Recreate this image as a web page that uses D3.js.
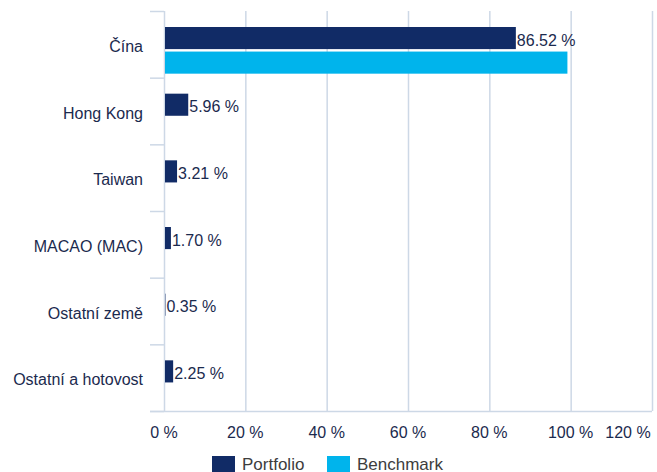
<!DOCTYPE html>
<html>
<head>
<meta charset="utf-8">
<script src="https://cdn.jsdelivr.net/npm/d3@7"></script>
<style>
  body { margin: 0; background: #fff; }
  svg text { font-family: "Liberation Sans", Arial, Helvetica, sans-serif; }
</style>
</head>
<body>
<div id="chart"></div>
<script>
// data
const categories = ["Čína", "Hong Kong", "Taiwan", "MACAO (MAC)", "Ostatní země", "Ostatní a hotovost"];
const portfolio = [86.52, 5.96, 3.21, 1.70, 0.35, 2.25];
const benchmark = [99.2, null, null, null, null, null];
const seriesNames = ["Portfolio", "Benchmark"];
const xTicks = [0, 20, 40, 60, 80, 100, 120];

const width = 657, height = 472;
const margin = {top: 11, right: 5, bottom: 61, left: 164};
const colors = ["#112b66", "#00b4ec"];
const textColor = "#1b2a4e";
const gridColor = "#cdd8e6";

const svg = d3.select("#chart").append("svg")
    .attr("width", width)
    .attr("height", height);

const innerW = width - margin.left - margin.right;
const innerH = height - margin.top - margin.bottom;

const x = d3.scaleLinear().domain([0, 120]).range([0, 488]);
const y = d3.scaleBand().domain(categories).range([0, innerH]);
const ySub = d3.scaleBand().domain(seriesNames).range([16, y.bandwidth() - 4]).paddingInner(0.1);

const chart = svg.append("g")
    .attr("transform", `translate(${margin.left}, ${margin.top})`);

// vertical grid lines
chart.append("g")
    .selectAll("line")
    .data(xTicks)
    .enter().append("line")
    .attr("x1", d => x(d) + 0.5)
    .attr("x2", d => x(d) + 0.5)
    .attr("y1", 0)
    .attr("y2", innerH)
    .attr("stroke", gridColor)
    .attr("stroke-width", 1.5);

// category tick marks on the left
const bounds = categories.map(c => y(c)).concat([innerH]);
chart.append("g")
    .selectAll("line")
    .data(bounds)
    .enter().append("line")
    .attr("x1", -14)
    .attr("x2", 0)
    .attr("y1", d => d + 0.5)
    .attr("y2", d => d + 0.5)
    .attr("stroke", gridColor)
    .attr("stroke-width", 1.5);

// bottom axis line
chart.append("line")
    .attr("x1", -14)
    .attr("x2", innerW)
    .attr("y1", innerH + 0.5)
    .attr("y2", innerH + 0.5)
    .attr("stroke", gridColor)
    .attr("stroke-width", 1.5);

// x tick labels (last one pulled inside like the original)
chart.append("g")
    .selectAll("text")
    .data(xTicks)
    .enter().append("text")
    .attr("x", (d, i) => i === xTicks.length - 1 ? x(d) - 24 : x(d))
    .attr("y", innerH + 27)
    .attr("text-anchor", "middle")
    .attr("font-size", "16px")
    .attr("fill", textColor)
    .text(d => `${d} %`);

// category labels
chart.append("g")
    .selectAll("text")
    .data(categories)
    .enter().append("text")
    .attr("x", -21)
    .attr("y", d => y(d) + y.bandwidth() / 2 + 2)
    .attr("dy", "0.35em")
    .attr("text-anchor", "end")
    .attr("font-size", "16px")
    .attr("fill", textColor)
    .text(d => d);

// bars
const series = [portfolio, benchmark];
series.forEach((vals, si) => {
    const rows = categories.map((c, i) => ({cat: c, v: vals[i]})).filter(d => d.v != null);
    chart.append("g")
        .selectAll("rect")
        .data(rows)
        .enter().append("rect")
        .attr("x", 1)
        .attr("y", d => y(d.cat) + ySub(seriesNames[si]))
        .attr("width", d => Math.max(0, x(d.v) - 1))
        .attr("height", ySub.bandwidth())
        .attr("fill", colors[si]);
});

// portfolio value labels
chart.append("g")
    .selectAll("text")
    .data(categories.map((c, i) => ({cat: c, v: portfolio[i]})))
    .enter().append("text")
    .attr("x", d => x(d.v) + 1)
    .attr("y", d => y(d.cat) + ySub("Portfolio") + ySub.bandwidth() / 2 + 2)
    .attr("dy", "0.35em")
    .attr("font-size", "16px")
    .attr("fill", textColor)
    .text(d => `${d.v.toFixed(2)} %`);

// legend
const legend = svg.append("g")
    .attr("transform", "translate(212, 456)");
const legendX = [0, 115];
seriesNames.forEach((name, i) => {
    legend.append("rect")
        .attr("x", legendX[i])
        .attr("y", 0)
        .attr("width", 23)
        .attr("height", 16)
        .attr("fill", colors[i]);
    legend.append("text")
        .attr("x", legendX[i] + 30)
        .attr("y", 14)
        .attr("font-size", "17px")
        .attr("fill", "#3d3d3d")
        .text(name);
});
</script>
</body>
</html>
